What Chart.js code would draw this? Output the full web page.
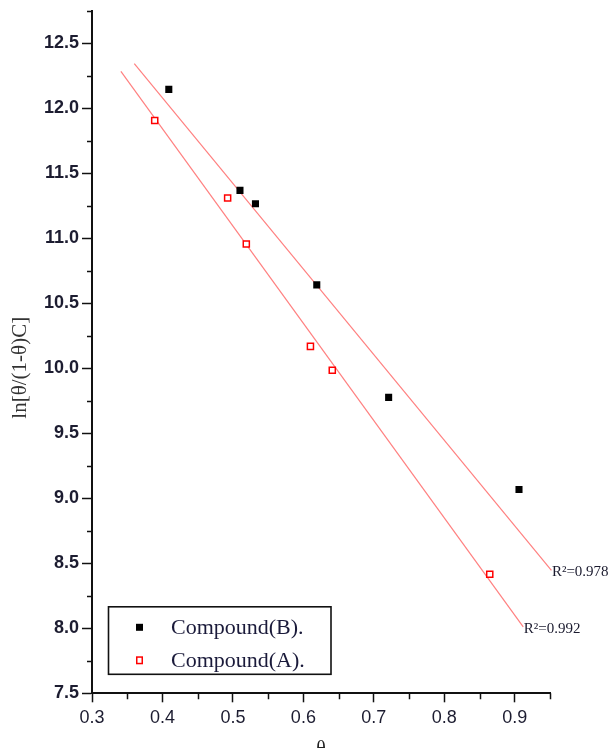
<!DOCTYPE html>
<html>
<head>
<meta charset="utf-8">
<script src="https://cdn.jsdelivr.net/npm/chart.js@4.4.1/dist/chart.umd.min.js"></script>
<style>
  html, body { margin: 0; padding: 0; background: #fff; overflow: hidden; }
  #clip { width: 613px; height: 748px; overflow: hidden; position: relative; }
  #wrap { width: 613px; height: 770px; position: absolute; left: 0; top: 0; }
</style>
</head>
<body>
<div id="clip"><div id="wrap"><canvas id="c"></canvas></div></div>
<script>
// ---- data ----
const labelB = 'Compound(B).';
const labelA = 'Compound(A).';
const thetaB = [0.409, 0.510, 0.532, 0.619, 0.721, 0.906];
const lnB    = [12.145, 11.368, 11.265, 10.641, 9.776, 9.068];
const thetaA = [0.389, 0.4925, 0.519, 0.610, 0.641, 0.8645];
const lnA    = [11.905, 11.309, 10.956, 10.168, 9.984, 8.416];
const fitBTheta = [0.360, 0.952];
const fitBLn    = [12.343, 8.445];
const fitATheta = [0.341, 0.912];
const fitALn    = [12.284, 8.011];
const fitBLabel = 'R\u00b2=0.978';
const fitALabel = 'R\u00b2=0.992';
const yTitle = 'ln[\u03b8/(1-\u03b8)C]';
const xTitle = '\u03b8';
const yMinorTicks = [7.75, 8.25, 8.75, 9.25, 9.75, 10.25, 10.75, 11.25, 11.75, 12.25, 12.75];
const xMinorTicks = [0.35, 0.45, 0.55, 0.65, 0.75, 0.85, 0.95];

const pts = (xs, ys) => xs.map((x, i) => ({x: x, y: ys[i]}));

const minorTicks = {
  id: 'minorTicks',
  afterDraw(chart) {
    const ctx = chart.ctx;
    const xs = chart.scales.x, ys = chart.scales.y;
    ctx.save();
    ctx.strokeStyle = '#111';
    ctx.lineWidth = 1.5;
    ctx.beginPath();
    yMinorTicks.forEach(v => {
      const p = Math.round(ys.getPixelForValue(v)) + 0.5;
      ctx.moveTo(xs.left - 5, p); ctx.lineTo(xs.left, p);
    });
    xMinorTicks.forEach(v => {
      const p = Math.round(xs.getPixelForValue(v)) + 0.5;
      ctx.moveTo(p, ys.bottom); ctx.lineTo(p, ys.bottom + 6);
    });
    ctx.stroke();
    ctx.restore();
  }
};

const fitLabels = {
  id: 'fitLabels',
  afterDatasetsDraw(chart) {
    const ctx = chart.ctx;
    ctx.save();
    ctx.font = '15px "Liberation Serif", "Times New Roman", serif';
    ctx.fillStyle = '#1a1a2e';
    ctx.textAlign = 'left';
    ctx.textBaseline = 'middle';
    chart.data.datasets.forEach((ds, i) => {
      if (!ds.isFit) return;
      const meta = chart.getDatasetMeta(i);
      const end = meta.data[meta.data.length - 1];
      ctx.fillText(ds.label, end.x + 0.5, end.y + 2);
    });
    ctx.restore();
  }
};

const boxLegend = {
  id: 'boxLegend',
  afterDraw(chart) {
    const ctx = chart.ctx;
    const a = chart.chartArea;
    const left = a.left + 16.5, top = a.bottom - 86.5, w = 222.5, h = 67.5;
    ctx.save();
    ctx.strokeStyle = '#111';
    ctx.lineWidth = 1.6;
    ctx.strokeRect(left, top, w, h);
    const items = chart.data.datasets.filter(d => !d.isFit);
    ctx.font = '22px "Liberation Serif", "Times New Roman", serif';
    ctx.textAlign = 'left';
    ctx.textBaseline = 'middle';
    items.forEach((d, k) => {
      const cy = top + 20.5 + k * 33;
      const cx = left + 31;
      if (d.backgroundColor === '#000') {
        ctx.fillStyle = '#000';
        ctx.fillRect(cx - 3.5, cy - 3.5, 7, 7);
      } else {
        ctx.strokeStyle = '#ff0000';
        ctx.lineWidth = 1.5;
        ctx.strokeRect(cx - 2.75, cy - 3.25, 5.5, 6.5);
      }
      ctx.fillStyle = '#1a1a3a';
      ctx.fillText(d.label, left + 62.5, cy + 1);
    });
    ctx.restore();
  }
};

new Chart(document.getElementById('c'), {
  type: 'scatter',
  data: {
    datasets: [
      { label: labelB, data: pts(thetaB, lnB), pointStyle: 'rect', pointRadius: 5,
        backgroundColor: '#000', borderColor: '#000', borderWidth: 0, order: 1 },
      { label: labelA, data: pts(thetaA, lnA), pointStyle: 'rect', pointRadius: 4.3,
        backgroundColor: '#fff', borderColor: '#ff0000', borderWidth: 1.5, order: 1 },
      { label: fitBLabel, isFit: true, data: pts(fitBTheta, fitBLn), showLine: true,
        borderColor: '#ff8080', borderWidth: 1.2, pointRadius: 0, fill: false, clip: false, order: 2 },
      { label: fitALabel, isFit: true, data: pts(fitATheta, fitALn), showLine: true,
        borderColor: '#ff8080', borderWidth: 1.2, pointRadius: 0, fill: false, clip: false, order: 2 }
    ]
  },
  options: {
    responsive: true,
    maintainAspectRatio: false,
    devicePixelRatio: 1,
    animation: false,
    layout: { padding: { left: 0, right: 63, top: 10.7, bottom: 0 } },
    plugins: { legend: { display: false }, tooltip: { enabled: false } },
    scales: {
      x: {
        type: 'linear', min: 0.3, max: 0.95,
        border: { color: '#111', width: 2 },
        grid: { drawOnChartArea: false, tickLength: 9, tickColor: '#111', tickWidth: 1.5 },
        ticks: { stepSize: 0.1, includeBounds: false, padding: 5, color: '#1c1c30',
          font: { family: '"Liberation Sans", Arial, sans-serif', size: 18 },
          callback: v => Number(v).toFixed(1) },
        title: { display: true, text: xTitle, color: '#222',
          font: { family: '"Liberation Serif", serif', size: 20 }, padding: { top: 0, bottom: 8 } },
        afterFit(s) { s.height = 76.7; s.paddingLeft = 0; s.paddingRight = 0; }
      },
      y: {
        type: 'linear', min: 7.5, max: 12.75,
        border: { color: '#111', width: 2 },
        grid: { drawOnChartArea: false, tickLength: 10, tickColor: '#111', tickWidth: 1.5 },
        ticks: { stepSize: 0.5, includeBounds: false, padding: 3, color: '#1c1c30',
          font: { family: '"Liberation Sans", Arial, sans-serif', size: 18, weight: 'bold' },
          callback: v => Number(v).toFixed(1) },
        title: { display: true, text: yTitle + '\u00a0\u00a0\u00a0\u00a0\u00a0\u00a0', color: '#333',
          font: { family: '"Liberation Serif", serif', size: 21 }, padding: { top: 8, bottom: 0 } },
        afterFit(s) { s.width = 92; s.paddingTop = 0; s.paddingBottom = 0; }
      }
    }
  },
  plugins: [minorTicks, fitLabels, boxLegend]
});
</script>
</body>
</html>
